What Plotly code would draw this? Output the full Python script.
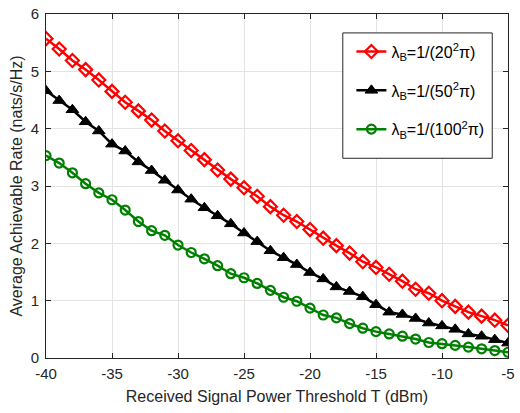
import plotly.graph_objects as go

threshold_dbm = list(range(-40, -4))

rate_20 = [5.57, 5.39, 5.19, 5.03, 4.85, 4.65, 4.46, 4.31, 4.15, 3.96, 3.79, 3.62,
           3.46, 3.28, 3.12, 2.97, 2.82, 2.64, 2.49, 2.38, 2.24, 2.09, 1.96, 1.83,
           1.68, 1.58, 1.46, 1.34, 1.20, 1.13, 1.00, 0.90, 0.80, 0.73, 0.66, 0.57]
rate_50 = [4.66, 4.49, 4.33, 4.12, 3.96, 3.73, 3.61, 3.42, 3.27, 3.10, 2.93, 2.77,
           2.62, 2.48, 2.34, 2.18, 2.03, 1.87, 1.75, 1.63, 1.49, 1.38, 1.24, 1.16,
           1.07, 0.93, 0.80, 0.76, 0.69, 0.61, 0.56, 0.50, 0.42, 0.38, 0.32, 0.26]
rate_100 = [3.53, 3.40, 3.23, 3.04, 2.88, 2.76, 2.58, 2.38, 2.22, 2.14, 1.97, 1.84,
            1.73, 1.61, 1.47, 1.40, 1.30, 1.18, 1.06, 0.99, 0.87, 0.75, 0.70, 0.60,
            0.52, 0.46, 0.42, 0.38, 0.33, 0.27, 0.25, 0.22, 0.19, 0.16, 0.13, 0.10]

names = ["λ<sub>B</sub>=1/(20<sup>2</sup>π)",
         "λ<sub>B</sub>=1/(50<sup>2</sup>π)",
         "λ<sub>B</sub>=1/(100<sup>2</sup>π)"]

x_ticks = [-40, -35, -30, -25, -20, -15, -10, -5]
y_ticks = [0, 1, 2, 3, 4, 5, 6]

FONT = "Liberation Sans, Arial, sans-serif"
AX = "#262626"

fig = go.Figure()
fig.add_trace(go.Scatter(x=threshold_dbm, y=rate_20, name=names[0], mode="lines+markers",
                         legendgroup="a",
                         line=dict(color="#ff0000", width=2.5),
                         marker=dict(symbol="diamond-open", size=10, color="#ff0000",
                                     line=dict(width=2.2, color="#ff0000"))))
fig.add_trace(go.Scatter(x=threshold_dbm, y=rate_50, name=names[1], mode="lines+markers",
                         legendgroup="b",
                         line=dict(color="#000000", width=2.5),
                         marker=dict(symbol="triangle-up", size=11, color="#000000",
                                     line=dict(width=1, color="#000000"))))
fig.add_trace(go.Scatter(x=threshold_dbm, y=rate_100, name=names[2], mode="lines+markers",
                         legendgroup="c",
                         line=dict(color="#008000", width=2.5),
                         marker=dict(symbol="circle-open", size=9, color="#008000",
                                     line=dict(width=2.2, color="#008000"))))

axis_common = dict(showline=True, linecolor=AX, linewidth=1, mirror="ticks",
                   ticks="inside", ticklen=5, tickcolor=AX,
                   showgrid=True, gridcolor="#e3e3e3", gridwidth=1, zeroline=False,
                   ticklabeloverflow="allow",
                   tickfont=dict(family=FONT, size=15, color=AX))

fig.update_layout(
    width=520, height=413,
    margin=dict(l=46, r=5, t=8, b=55),
    paper_bgcolor="white", plot_bgcolor="white",
    font=dict(family=FONT, size=15, color=AX),
    xaxis=dict(range=[-40, -5], tickvals=x_ticks, ticktext=[str(v) for v in x_ticks],
               ticklabelstandoff=2,
               title=dict(text="Received Signal Power Threshold T (dBm)", standoff=9,
                          font=dict(family=FONT, size=16, color=AX)),
               **axis_common),
    yaxis=dict(range=[0, 6], tickvals=y_ticks, ticktext=[str(v) for v in y_ticks],
               ticklabelstandoff=3,
               title=dict(text="Average Achievable Rate (nats/s/Hz)", standoff=4,
                          font=dict(family=FONT, size=16, color=AX)),
               **axis_common),
    shapes=[dict(type="rect", xref="paper", yref="paper",
                 x0=0.6424, x1=0.9659, y0=0.5806, y1=0.945,
                 line=dict(color=AX, width=1), fillcolor="white", layer="above")],
    legend=dict(x=0.661, y=0.94, xanchor="left", yanchor="top",
                bgcolor="rgba(0,0,0,0)", borderwidth=0,
                font=dict(family=FONT, size=16, color="#000000"),
                tracegroupgap=15, itemwidth=30),
    showlegend=True,
)

fig.write_html("out.html",
               config={"displayModeBar": False},
               post_script="document.body.style.margin='0';document.body.style.overflow='hidden';")
